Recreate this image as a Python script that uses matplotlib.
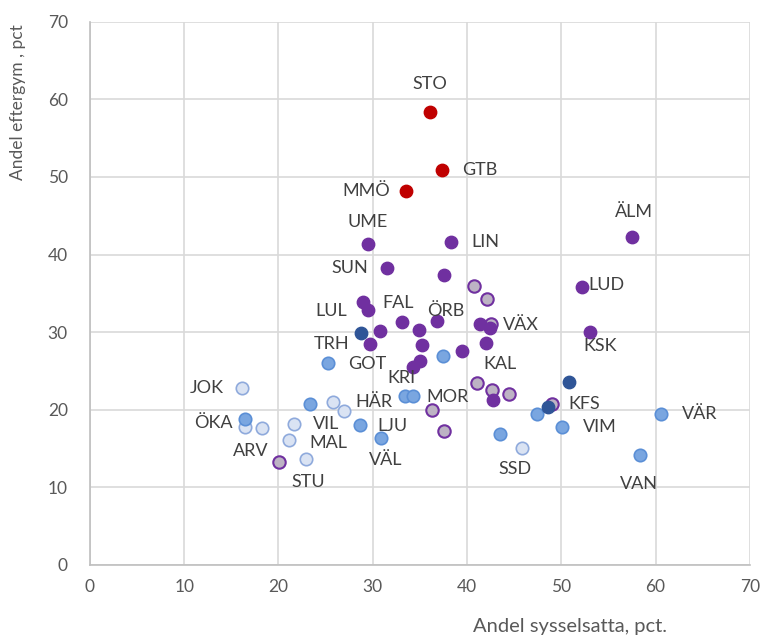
import matplotlib.pyplot as plt

plt.rcParams['font.family'] = ['Lato', 'DejaVu Sans']

# Points per group (x = andel sysselsatta, y = andel eftergym)
red_x = [36.1, 37.3, 33.5]
red_y = [58.4, 50.9, 48.2]

purple_x = [29.5, 38.3, 57.5, 31.5, 37.6, 52.2, 29.0, 29.5, 33.1, 36.8, 34.9,
            30.8, 41.4, 42.4, 29.7, 35.2, 42.0, 39.5, 35.0, 34.3, 42.8, 53.1]
purple_y = [41.4, 41.6, 42.3, 38.2, 37.4, 35.8, 33.9, 32.9, 31.3, 31.4, 30.3,
            30.2, 31.1, 30.5, 28.5, 28.4, 28.6, 27.6, 26.3, 25.5, 21.3, 30.0]

hollow_x = [40.7, 42.1, 42.5, 41.1, 42.7, 44.5, 36.3, 37.6, 49.0, 20.1]
hollow_y = [36.0, 34.3, 31.1, 23.4, 22.6, 22.0, 19.9, 17.3, 20.7, 13.3]

dark_x = [28.8, 50.8, 48.6]
dark_y = [29.9, 23.6, 20.3]

mid_x = [37.5, 25.2, 33.4, 34.3, 23.3, 28.6, 30.9, 47.4, 43.5, 50.1, 60.6, 58.4, 16.5]
mid_y = [26.9, 26.0, 21.7, 21.7, 20.7, 18.0, 16.3, 19.4, 16.9, 17.8, 19.5, 14.1, 18.8]

light_x = [25.8, 26.9, 45.8, 16.1, 16.5, 18.2, 21.6, 21.1, 22.9]
light_y = [21.0, 19.8, 15.0, 22.8, 17.8, 17.7, 18.1, 16.1, 13.7]

# labels: name, anchor point, offset in pixels
labels = [
    ('STO', 36.1, 58.4, 0, 28), ('GTB', 37.3, 50.9, 38, 0), ('MMÖ', 33.5, 48.2, -39, 0),
    ('UME', 29.5, 41.4, 0, 22), ('LIN', 38.3, 41.6, 34, 0), ('ÄLM', 57.5, 42.3, 2, 25),
    ('SUN', 31.5, 38.2, -37, 0), ('LUD', 52.2, 35.8, 24, 2), ('LUL', 29.0, 33.9, -32, -9),
    ('FAL', 33.1, 31.3, -4, 19), ('ÖRB', 36.8, 31.4, 9, 10), ('VÄX', 42.5, 31.1, 30, -1),
    ('TRH', 28.8, 29.9, -30, -11), ('KAL', 42.0, 28.6, 14, -21), ('GOT', 29.7, 28.5, -3, -20),
    ('KRI', 34.3, 25.5, -12, -11), ('KSK', 53.1, 30.0, 10, -14), ('JOK', 16.1, 22.8, -35, 0),
    ('HÄR', 26.9, 19.8, 30, 9), ('MOR', 36.3, 19.9, 15, 13), ('KFS', 48.6, 20.3, 36, 3),
    ('VÄR', 60.6, 19.5, 39, 0), ('ÖKA', 16.5, 18.8, -32, -4), ('VIL', 21.6, 18.1, 33, 0),
    ('VIM', 50.1, 17.8, 38, 0), ('MAL', 21.1, 16.1, 40, -3), ('LJU', 28.6, 18.0, 33, -1),
    ('ARV', 20.1, 13.3, -29, 11), ('VÄL', 30.9, 16.3, 4, -22), ('SSD', 45.8, 15.0, -7, -21),
    ('STU', 22.9, 13.7, 2, -23), ('VAN', 58.4, 14.1, -1, -29),
]

fig = plt.figure(figsize=(7.69, 6.39), dpi=100)
ax = fig.add_axes([0.117, 0.116, 0.858, 0.85])

s = 80
ax.scatter(light_x, light_y, s=s, color='#DAE3F3', edgecolor='#8FAADC', linewidth=1.2, zorder=3)
ax.scatter(mid_x, mid_y, s=s, color='#7AA6E0', edgecolor='#5B8FD6', linewidth=1.2, zorder=3)
ax.scatter(hollow_x, hollow_y, s=s, color='#BDB3C4', edgecolor='#7030A0', linewidth=1.5, zorder=3)
ax.scatter(purple_x, purple_y, s=s, color='#7030A0', edgecolor='#7030A0', linewidth=1, zorder=4)
ax.scatter(dark_x, dark_y, s=s, color='#2F5597', edgecolor='#2F5597', linewidth=1, zorder=5)
ax.scatter(red_x, red_y, s=s, color='#C00000', edgecolor='#C00000', linewidth=1, zorder=5)

for name, x, y, dx, dy in labels:
    ax.annotate(name, (x, y), xytext=(dx, dy), textcoords='offset pixels',
                ha='center', va='center', fontsize=13, color='#404040', zorder=6)

ax.set_xlim(0, 70)
ax.set_ylim(0, 70)
ax.set_xticks(range(0, 71, 10))
ax.set_yticks(range(0, 71, 10))
ax.grid(True, color='#D9D9D9', linewidth=1.2)
ax.set_axisbelow(True)
for side in ['top', 'right']:
    ax.spines[side].set_visible(False)
for side in ['left', 'bottom']:
    ax.spines[side].set_color('#BFBFBF')
    ax.spines[side].set_linewidth(1.2)
ax.tick_params(length=0, labelsize=12.5, colors='#595959')
ax.tick_params(axis='y', pad=16)
ax.tick_params(axis='x', pad=10)

fig.text(0.023, 0.84, 'Andel eftergym , pct', rotation=90, ha='center', va='center',
         fontsize=12.5, color='#595959')
fig.text(0.741, 0.02, 'Andel sysselsatta, pct.', ha='center', va='center',
         fontsize=14.5, color='#595959')

fig.savefig('out.png', dpi=100)
